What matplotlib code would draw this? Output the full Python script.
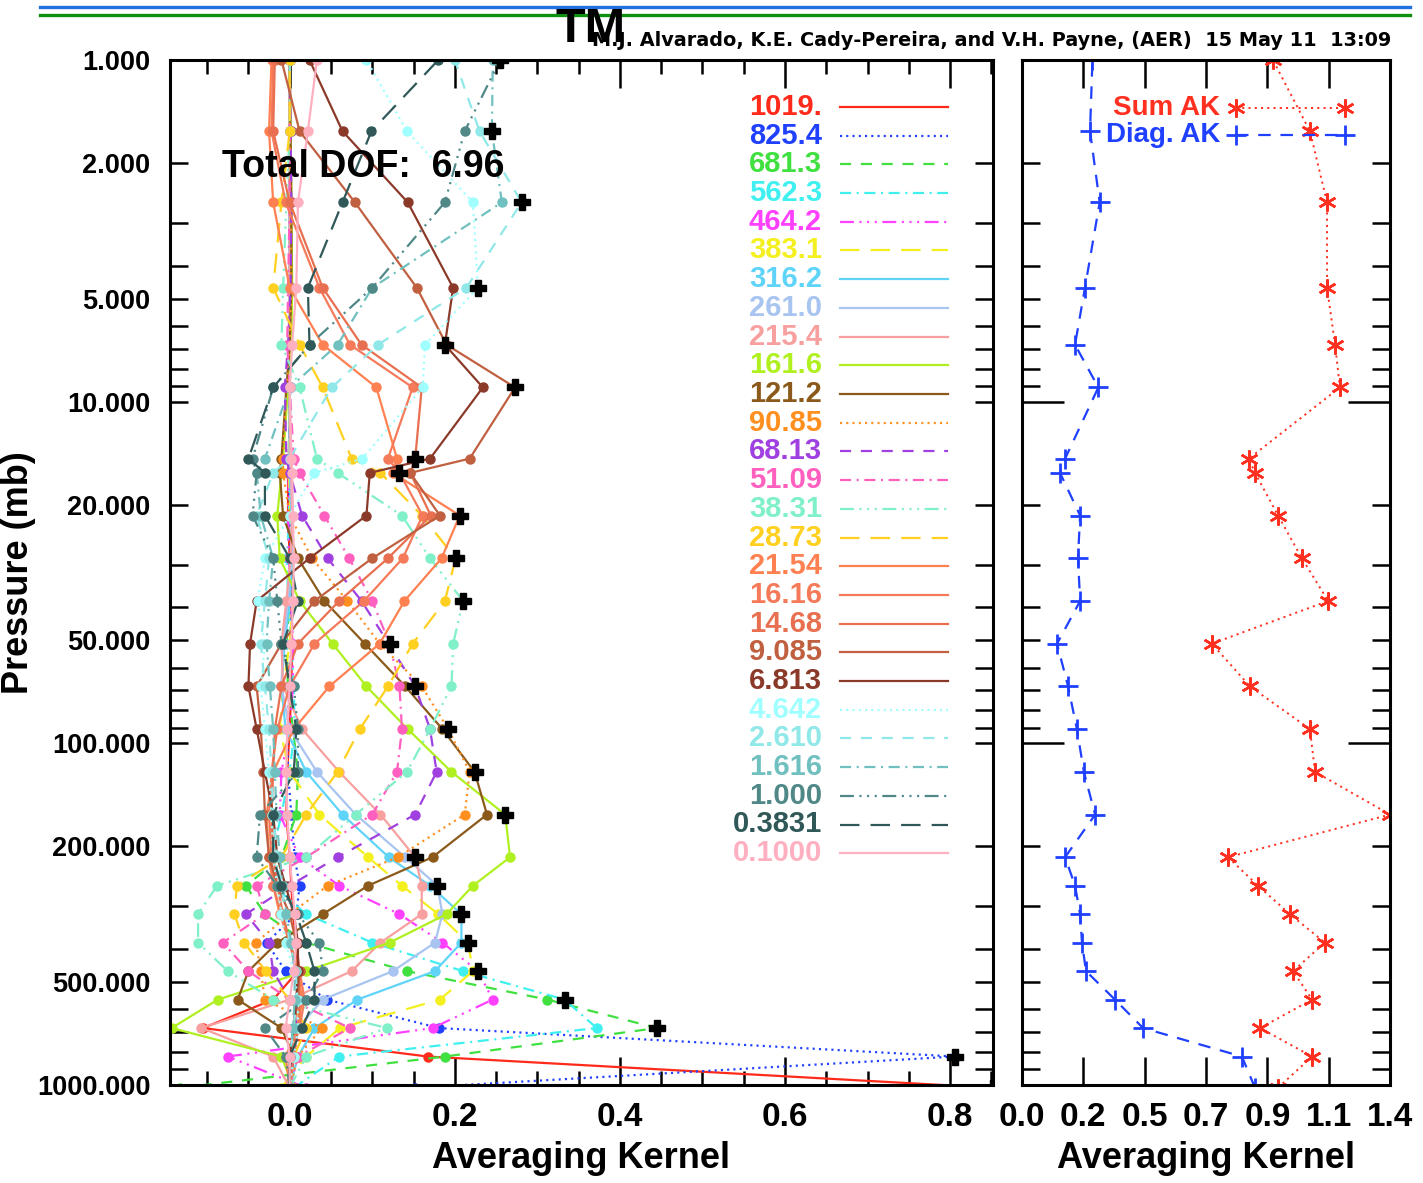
# Averaging kernel figure: AK rows (left) and sum / diagonal AK (right)

import matplotlib
matplotlib.use('Agg')
import matplotlib.pyplot as plt
import numpy as np
from matplotlib.ticker import FixedLocator, MultipleLocator, NullFormatter
from matplotlib.lines import Line2D

plt.rcParams['font.family'] = ['Liberation Sans', 'DejaVu Sans']
plt.rcParams['font.weight'] = 'bold'
plt.rcParams['lines.scale_dashes'] = False

# pressure levels (mb) of the retrieval grid
levels = [1019., 825.4, 681.3, 562.3, 464.2, 383.1, 316.2, 261.0, 215.4, 161.6,
          121.2, 90.85, 68.13, 51.09, 38.31, 28.73, 21.54, 16.16, 14.68, 9.085,
          6.813, 4.642, 2.610, 1.616, 1.000, 0.3831, 0.1000]
level_labels = ['1019.', '825.4', '681.3', '562.3', '464.2', '383.1', '316.2', '261.0',
                '215.4', '161.6', '121.2', '90.85', '68.13', '51.09', '38.31', '28.73',
                '21.54', '16.16', '14.68', '9.085', '6.813', '4.642', '2.610', '1.616',
                '1.000', '0.3831', '0.1000']

# one averaging kernel row per level (values at each level, 1019 -> 0.1 mb)
ak_rows = [
    [0.852, 0.167, -0.105, -0.020, 0.010, 0.008, 0.004, 0.002, 0.000, -0.004, -0.003, 0.000, 0.002, 0.003, 0.002, 0.000, -0.002, -0.002, -0.001, 0.000, 0.001, 0.001, 0.000, 0.000, 0.000, 0.000, 0.000],
    [0.152, 0.806, 0.181, 0.045, -0.005, -0.028, 0.008, 0.012, 0.006, 0.002, -0.002, -0.003, 0.000, 0.002, 0.002, 0.001, 0.000, -0.001, -0.001, 0.000, 0.001, 0.000, 0.000, 0.000, 0.000, 0.000, 0.000],
    [-0.133, 0.188, 0.445, 0.312, 0.142, 0.020, -0.030, -0.053, -0.010, 0.008, 0.010, 0.004, -0.002, -0.004, 0.000, 0.002, 0.002, 0.001, 0.000, 0.000, 0.000, 0.000, 0.000, 0.000, 0.000, 0.000, 0.000],
    [0.005, 0.060, 0.372, 0.333, 0.210, 0.100, 0.020, -0.020, -0.022, -0.010, 0.000, 0.006, 0.005, 0.002, -0.002, -0.003, -0.001, 0.000, 0.000, 0.001, 0.001, 0.000, 0.000, 0.000, 0.000, 0.000, 0.000],
    [0.020, -0.075, 0.173, 0.246, 0.228, 0.185, 0.133, 0.060, 0.012, -0.012, -0.010, 0.000, 0.004, 0.004, 0.002, -0.001, -0.002, -0.001, 0.000, 0.000, 0.001, 0.000, 0.000, 0.000, 0.000, 0.000, 0.000],
    [-0.010, 0.020, 0.061, 0.182, 0.222, 0.216, 0.180, 0.136, 0.095, 0.036, 0.000, -0.012, -0.008, 0.000, 0.004, 0.003, 0.001, -0.001, -0.001, 0.000, 0.000, 0.000, 0.000, 0.000, 0.000, 0.000, 0.000],
    [0.000, 0.010, 0.030, 0.082, 0.176, 0.208, 0.208, 0.170, 0.120, 0.064, 0.020, -0.005, -0.010, -0.006, 0.000, 0.003, 0.002, 0.000, 0.000, 0.000, 0.000, 0.000, 0.000, 0.000, 0.000, 0.000, 0.000],
    [0.000, 0.005, 0.010, 0.040, 0.125, 0.176, 0.185, 0.179, 0.140, 0.080, 0.033, 0.000, -0.010, -0.008, -0.002, 0.002, 0.003, 0.001, 0.000, 0.000, 0.000, 0.000, 0.000, 0.000, 0.000, 0.000, 0.000],
    [0.000, -0.020, -0.107, 0.000, 0.075, 0.110, 0.160, 0.160, 0.152, 0.110, 0.060, 0.015, -0.008, -0.010, -0.004, 0.001, 0.003, 0.002, 0.001, 0.000, 0.000, 0.000, 0.000, 0.000, 0.000, 0.000, 0.000],
    [0.005, -0.010, -0.143, -0.087, 0.020, 0.121, 0.190, 0.222, 0.267, 0.261, 0.196, 0.143, 0.093, 0.052, 0.012, -0.012, -0.015, -0.010, -0.008, -0.002, 0.002, 0.003, 0.002, 0.001, 0.000, 0.000, 0.000],
    [0.000, 0.005, -0.010, -0.063, -0.050, -0.015, 0.040, 0.095, 0.173, 0.239, 0.224, 0.185, 0.140, 0.091, 0.042, 0.010, -0.008, -0.012, -0.010, -0.004, 0.000, 0.002, 0.002, 0.001, 0.000, 0.000, 0.000],
    [0.000, 0.010, 0.039, -0.030, -0.035, -0.041, 0.000, 0.046, 0.131, 0.212, 0.218, 0.192, 0.160, 0.109, 0.070, 0.027, 0.000, -0.008, -0.008, -0.004, 0.000, 0.002, 0.001, 0.000, 0.000, 0.000, 0.000],
    [0.000, 0.005, 0.010, 0.000, -0.020, -0.025, -0.053, 0.000, 0.058, 0.152, 0.178, 0.170, 0.152, 0.120, 0.087, 0.046, 0.015, 0.000, -0.004, -0.006, -0.002, 0.001, 0.002, 0.001, 0.000, 0.000, 0.000],
    [0.000, 0.010, 0.073, 0.000, -0.050, -0.081, -0.030, -0.040, 0.020, 0.100, 0.130, 0.136, 0.133, 0.121, 0.100, 0.072, 0.042, 0.012, 0.005, 0.000, -0.003, -0.002, 0.000, 0.000, 0.000, 0.000, 0.000],
    [0.000, 0.020, 0.118, -0.020, -0.075, -0.111, -0.111, -0.088, 0.020, 0.080, 0.142, 0.170, 0.196, 0.198, 0.210, 0.170, 0.136, 0.058, 0.033, 0.012, -0.010, -0.008, -0.004, 0.000, 0.000, 0.000, 0.000],
    [0.000, 0.005, 0.020, 0.000, -0.029, -0.055, -0.067, -0.064, -0.010, 0.020, 0.058, 0.085, 0.119, 0.149, 0.188, 0.201, 0.160, 0.110, 0.075, 0.040, 0.012, -0.020, -0.010, 0.000, 0.000, 0.000, 0.000],
    [0.000, -0.005, 0.010, 0.015, 0.010, 0.000, -0.012, -0.020, -0.025, -0.028, -0.020, 0.005, 0.048, 0.109, 0.139, 0.184, 0.206, 0.125, 0.130, 0.105, 0.040, 0.000, -0.020, -0.025, -0.022, -0.020, -0.018],
    [0.000, 0.000, 0.012, 0.018, 0.012, 0.000, -0.010, -0.020, -0.022, -0.025, -0.022, -0.015, 0.000, 0.030, 0.090, 0.137, 0.161, 0.133, 0.119, 0.149, 0.073, 0.036, -0.005, -0.022, -0.020, -0.018, -0.015],
    [0.000, 0.005, 0.010, 0.012, 0.008, 0.000, -0.008, -0.015, -0.020, -0.022, -0.020, -0.018, -0.010, 0.010, 0.060, 0.119, 0.171, 0.146, 0.152, 0.160, 0.087, 0.040, 0.000, -0.020, -0.018, -0.015, -0.012],
    [0.000, 0.000, 0.005, 0.010, 0.012, 0.008, 0.000, -0.015, -0.025, -0.030, -0.032, -0.035, -0.040, -0.010, 0.030, 0.100, 0.182, 0.146, 0.218, 0.273, 0.190, 0.154, 0.079, 0.012, -0.010, -0.010, -0.008],
    [0.000, 0.000, 0.005, 0.008, 0.010, 0.010, 0.005, -0.005, -0.015, -0.020, -0.030, -0.040, -0.050, -0.048, -0.040, 0.024, 0.093, 0.097, 0.170, 0.234, 0.188, 0.198, 0.143, 0.064, 0.024, 0.000, -0.005],
    [0.000, 0.005, 0.010, 0.010, 0.005, -0.005, -0.010, -0.015, -0.020, -0.022, -0.025, -0.030, -0.035, -0.030, -0.039, -0.030, 0.000, 0.030, 0.088, 0.161, 0.164, 0.228, 0.222, 0.142, 0.093, 0.040, 0.010],
    [0.000, 0.000, 0.005, 0.008, 0.008, 0.000, -0.005, -0.010, -0.015, -0.020, -0.022, -0.025, -0.030, -0.035, -0.030, -0.025, -0.040, -0.020, 0.000, 0.051, 0.107, 0.214, 0.281, 0.230, 0.200, 0.120, 0.040],
    [0.000, 0.000, 0.004, 0.006, 0.006, 0.002, -0.004, -0.008, -0.012, -0.016, -0.018, -0.020, -0.024, -0.028, -0.025, -0.020, -0.035, -0.040, -0.030, 0.000, 0.058, 0.100, 0.257, 0.245, 0.246, 0.180, 0.080],
    [0.000, -0.005, -0.030, 0.020, 0.040, 0.036, 0.010, -0.015, -0.040, -0.036, 0.010, 0.010, 0.005, -0.010, -0.015, -0.020, -0.045, -0.040, -0.045, -0.020, 0.024, 0.100, 0.188, 0.212, 0.255, 0.230, 0.150],
    [0.000, 0.000, 0.015, 0.030, 0.030, 0.020, 0.008, -0.010, -0.020, -0.020, 0.005, 0.008, 0.000, -0.008, 0.010, 0.000, -0.030, -0.030, -0.050, -0.020, 0.024, 0.022, 0.064, 0.099, 0.180, 0.180, 0.120],
    [0.000, 0.000, -0.005, 0.000, 0.005, 0.008, 0.006, 0.003, 0.000, -0.003, -0.004, -0.003, 0.000, 0.002, 0.004, 0.005, 0.004, 0.003, 0.002, 0.000, 0.003, 0.008, 0.010, 0.022, 0.033, 0.050, 0.040],
]

# right panel: row sums and diagonal of the AK
sum_ak = [0.956, 1.083, 0.889, 1.083, 1.012, 1.131, 1.000, 0.881, 0.769, 1.374,
          1.094, 1.075, 0.851, 0.709, 1.143, 1.045, 0.956, 0.870, 0.847, 1.187,
          1.169, 1.139, 1.139, 1.075, 0.937, 0.800, 0.400]
diag_ak = [0.870, 0.821, 0.452, 0.347, 0.239, 0.224, 0.217, 0.198, 0.161, 0.273,
           0.231, 0.205, 0.172, 0.131, 0.217, 0.209, 0.217, 0.142, 0.161, 0.285,
           0.198, 0.235, 0.290, 0.254, 0.263, 0.180, 0.040]
right_xticklabels = ['0.0', '0.2', '0.5', '0.7', '0.9', '1.1', '1.4']

colors = ['#ff2a1a', '#2040ff', '#40e040', '#40f0f0', '#ff40ff', '#f4f020', '#60d4f8',
          '#a8c4f0', '#f8a0a0', '#b0f020', '#8b5a1a', '#ff9020', '#a040e0', '#ff60c0',
          '#80f0c8', '#ffd020', '#ff8050', '#f57a5a', '#e87050', '#c06040', '#8b3a2a',
          '#a0ffff', '#90e8e8', '#70c0c0', '#508888', '#305858', '#ffb0c0']
styles = ['solid', 'dot', 'dash', 'dashdot', 'dash3dot', 'long',
          'solid', 'solid', 'solid', 'solid', 'solid',
          'dot', 'dash', 'dashdot', 'dash3dot', 'long',
          'solid', 'solid', 'solid', 'solid', 'solid',
          'dot', 'dash', 'dashdot', 'dash3dot', 'long', 'solid']
dash_map = {'solid': '-', 'dot': (0, (1.5, 3)), 'dash': (0, (8, 7)),
            'dashdot': (0, (8, 4, 1.5, 4)), 'dash3dot': (0, (10, 4, 1.5, 4, 1.5, 4, 1.5, 4)),
            'long': (0, (14, 8))}

ak = np.array(ak_rows)
lev = np.array(levels)

fig = plt.figure(figsize=(14.23, 11.83), dpi=100)
ax = fig.add_axes([170/1423, 98/1183, 823/1423, 1025/1183])
ax2 = fig.add_axes([1022/1423, 98/1183, 368/1423, 1025/1183])

# header bars + credit line
fig.add_artist(Line2D([40/1423, 1410/1423], [1-7/1183, 1-7/1183], color='#2070e0', lw=2.4))
fig.add_artist(Line2D([40/1423, 1410/1423], [1-14.5/1183, 1-14.5/1183], color='#109010', lw=2.4))
fig.text(556/1423, 1-42/1183, 'TM', fontsize=35, fontweight='bold', ha='left', va='baseline',
         family=['Liberation Sans Narrow', 'Liberation Sans', 'DejaVu Sans'])
fig.text(592/1423, 1-46/1183, 'M.J. Alvarado, K.E. Cady-Pereira, and V.H. Payne, (AER)  15 May 11  13:09',
         fontsize=13.9, fontweight='bold', ha='left', va='baseline', family=['DejaVu Sans'])

# left: every AK row vs pressure
for i in range(len(levels)):
    ax.plot(ak[i], lev, color=colors[i], ls=dash_map[styles[i]], lw=1.6,
            marker='o', ms=6.5, mec=colors[i], mfc=colors[i])
ax.plot(np.diag(ak), lev, ls='none', marker='P', ms=12, color='black', zorder=5)

ax.set_yscale('log')
ax.set_ylim(1000, 1)
ax.set_xlim(-0.145, 0.852)
ax.text(0.063, 0.896, 'Total DOF:  %.2f' % np.trace(ak), transform=ax.transAxes,
        fontsize=27, fontweight='bold', va='center', ha='left')

# legend, drawn IDL style
for i, lab in enumerate(level_labels):
    yy = 1 - (107 + i*28.7 - 60)/1025
    ax.text(0.792, yy, lab, color=colors[i], fontsize=21, fontweight='bold',
            ha='right', va='center', transform=ax.transAxes)
    ax.plot([0.814, 0.945], [yy, yy], color=colors[i], ls=dash_map[styles[i]], lw=1.6,
            transform=ax.transAxes)

# right: sum and diagonal
ax2.plot(sum_ak, lev, color='#ff3020', ls=(0, (1.5, 3)), lw=1.4, marker=(6, 2, 0), ms=13, mew=1.8)
ax2.plot(diag_ak, lev, color='#2040ff', ls=(0, (9, 7)), lw=1.6, marker='+', ms=15, mew=2)
ax2.set_yscale('log')
ax2.set_ylim(1000, 1)
xmax = max(sum_ak)
ax2.set_xlim(0, xmax)
ax2.set_xticks(np.linspace(0, xmax, 7))
ax2.set_xticklabels(right_xticklabels)
ax2.text(0.538, 0.953, 'Sum AK', color='#ff3020', fontsize=20, fontweight='bold',
         ha='right', va='center', transform=ax2.transAxes)
ax2.plot([0.582, 0.878], [0.953, 0.953], color='#ff3020', ls=(0, (1.5, 3)), lw=1.4,
         marker=(6, 2, 0), ms=13, mew=1.8, transform=ax2.transAxes)
ax2.text(0.538, 0.927, 'Diag. AK', color='#2040ff', fontsize=20, fontweight='bold',
         ha='right', va='center', transform=ax2.transAxes)
ax2.plot([0.582, 0.878], [0.927, 0.927], color='#2040ff', ls=(0, (9, 7)), lw=1.6,
         marker='+', ms=15, mew=2, transform=ax2.transAxes)

ylab_pos = [1, 2, 5, 10, 20, 50, 100, 200, 500, 1000]
yminor = [m*d for d in [1, 10, 100] for m in [3, 4, 6, 7, 8, 9]]
for a in (ax, ax2):
    for s in a.spines.values():
        s.set_linewidth(2.2)
    a.yaxis.set_major_locator(FixedLocator(ylab_pos))
    a.yaxis.set_minor_locator(FixedLocator(yminor))
    a.yaxis.set_minor_formatter(NullFormatter())
    a.tick_params(which='both', direction='in', top=True, right=True, width=1.8)
    a.tick_params(axis='y', which='both', length=13)
    for t, v in zip(a.yaxis.get_major_ticks(), ylab_pos):
        if v in (1, 10, 100, 1000):
            t.tick1line.set_markersize(30)
            t.tick2line.set_markersize(30)
    a.set_xlabel('Averaging Kernel', fontsize=26, fontweight='bold', labelpad=6)

ax.set_yticklabels(['%.3f' % v for v in ylab_pos])
ax.tick_params(axis='y', labelsize=19.5, pad=14)
ax.set_xticks([0.0, 0.2, 0.4, 0.6, 0.8])
ax.set_xticklabels(['0.0', '0.2', '0.4', '0.6', '0.8'])
ax.xaxis.set_minor_locator(MultipleLocator(0.05))
ax.tick_params(axis='x', which='major', length=20, labelsize=24, pad=12)
ax.tick_params(axis='x', which='minor', length=10)
ax.set_ylabel('Pressure (mb)', fontsize=26, fontweight='bold')
ax.yaxis.set_label_coords(-0.163, 0.5)

ax2.set_yticklabels([])
ax2.tick_params(axis='x', which='major', length=20, labelsize=24, pad=12)
ax2.xaxis.set_minor_locator(FixedLocator([]))

fig.savefig('out.png', dpi=100)
